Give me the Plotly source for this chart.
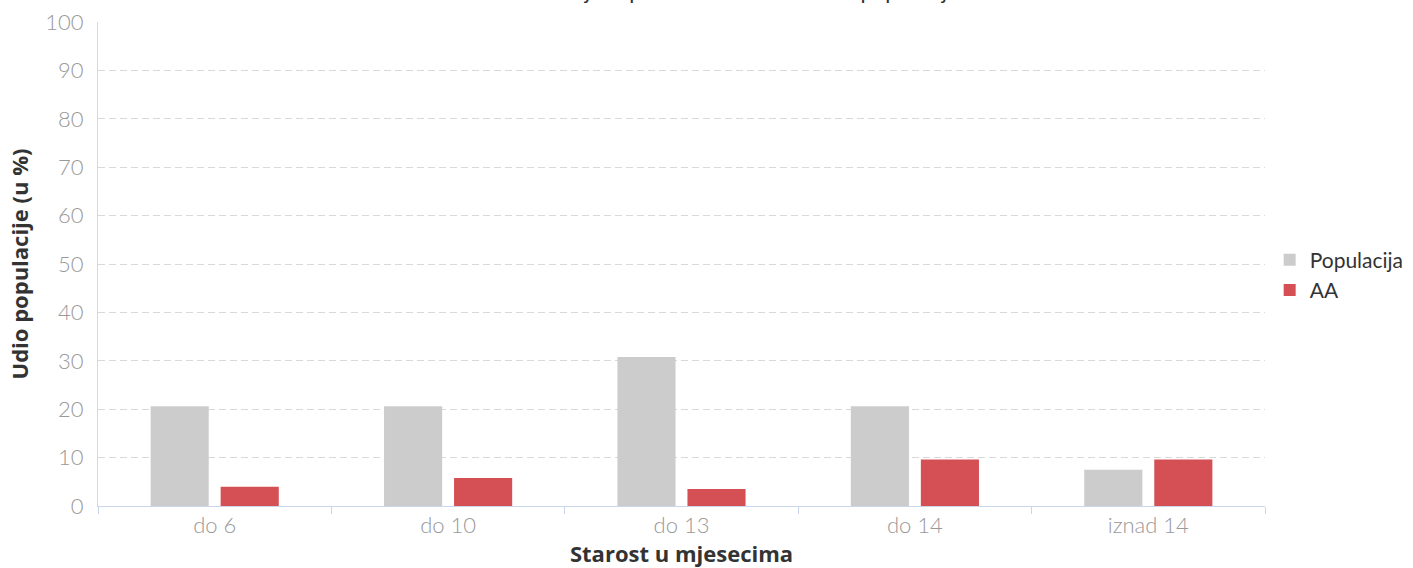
import plotly.graph_objects as go

# ---- data ----
categories = ["do 6", "do 10", "do 13", "do 14", "iznad 14"]
populacija = [20.6, 20.6, 30.8, 20.6, 7.5]
aa = [4.0, 5.8, 3.5, 9.6, 9.6]
y_ticks = [0, 10, 20, 30, 40, 50, 60, 70, 80, 90, 100]

title_text = "Udio djece po starosti u odnosu na populaciju"
x_title = "Starost u mjesecima"
y_title = "Udio populacije (u %)"

fig = go.Figure()
fig.add_trace(go.Bar(x=categories, y=populacija, name="Populacija",
                     marker=dict(color="#cccccc", line=dict(width=0))))
fig.add_trace(go.Bar(x=categories, y=aa, name="AA",
                     marker=dict(color="#d45055", line=dict(width=0))))

fig.update_layout(
    width=1413, height=568,
    margin=dict(l=98, r=148, t=22, b=62, pad=0, autoexpand=False),
    paper_bgcolor="white", plot_bgcolor="white",
    barmode="group", bargap=0.40, bargroupgap=0.17,
    font=dict(family="Lato", color="#333333"),
    legend=dict(x=1.004, y=0.477, xanchor="left", yanchor="middle",
                font=dict(family="Lato", size=21, color="#333333"),
                bgcolor="rgba(0,0,0,0)", tracegroupgap=2, itemwidth=30),
    xaxis=dict(
        type="category",
        showline=True, linecolor="#ccd6eb", linewidth=1,
        ticks="outside", tickson="boundaries", ticklen=7, tickcolor="#ccd6eb",
        showgrid=False, zeroline=False,
        tickfont=dict(family="Lato", size=22, color="#999999", weight=300),
        title=dict(text=x_title, standoff=9,
                   font=dict(family="Open Sans", size=22, color="#333333", weight="bold")),
    ),
    yaxis=dict(
        range=[0, 100], tickvals=y_ticks, ticktext=[str(v) for v in y_ticks],
        showline=True, linecolor="#d8d8d8", linewidth=1,
        showgrid=True, gridcolor="#d9d9d9", gridwidth=1.3, griddash="7px,4px",
        zeroline=False, ticks="", ticklabelstandoff=9,
        tickfont=dict(family="Lato", size=22, color="#999999", weight=300),
        title=dict(text=y_title, standoff=10,
                   font=dict(family="Open Sans", size=22, color="#333333", weight="bold")),
    ),
)

# chart title: sits above the top edge, only its descenders remain visible
fig.add_annotation(text=title_text, xref="paper", yref="paper",
                   x=0.55, y=1.0 + 16.0 / 484.0, xanchor="center", yanchor="bottom",
                   showarrow=False,
                   font=dict(family="Lato", size=22, color="#333333"))

fig.write_html("out.html", config={"displayModeBar": False},
               post_script="document.body.style.margin='0';")
